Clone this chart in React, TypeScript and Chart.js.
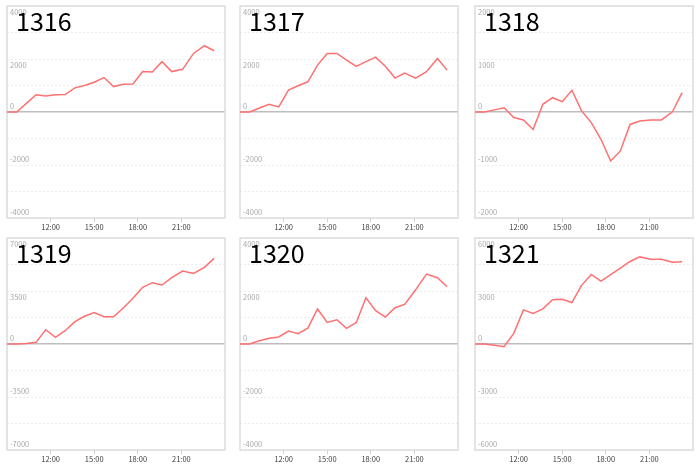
import React, { useEffect, useRef } from 'react';
import { Chart, registerables } from 'chart.js';

Chart.register(...registerables);
Chart.defaults.font.family = '"Noto Sans CJK SC", "Noto Sans", sans-serif';

// sample times, shared by all six panels
const times = ['09:00', '09:40', '10:20', '11:00', '11:40', '12:20', '13:00', '13:40', '14:20', '15:00', '15:40',
  '16:20', '17:00', '17:40', '18:20', '19:00', '19:40', '20:20', '21:05', '21:50', '22:35', '23:15'];
const tickLabels = ['12:00', '15:00', '18:00', '21:00'];
const axisStart = '09:00';
const axisEnd = '24:00';

const names = ['1316', '1317', '1318', '1319', '1320', '1321'];
const yLimits = [4000, 4000, 2000, 7000, 4000, 6000];

const v1316 = [0, 0, 325, 650, 600, 650, 660, 910, 1000, 1125, 1300, 960, 1050, 1060, 1525, 1510, 1900, 1525, 1610, 2210, 2500, 2310];
const v1317 = [0, 0, 150, 290, 190, 830, 990, 1140, 1770, 2210, 2210, 1960, 1720, 1900, 2070, 1730, 1280, 1470, 1280, 1520, 2020, 1580];
const v1318 = [0, 0, 40, 80, -105, -150, -330, 145, 270, 195, 410, 20, -200, -515, -925, -735, -235, -170, -150, -150, 5, 365];
const v1319 = [0, 0, 40, 110, 945, 440, 880, 1475, 1830, 2070, 1800, 1800, 2380, 3015, 3740, 4050, 3895, 4380, 4820, 4665, 5060, 5655];
const v1320 = [0, 0, 125, 215, 265, 490, 390, 600, 1320, 815, 915, 590, 815, 1745, 1255, 1015, 1370, 1495, 2045, 2640, 2500, 2160];
const v1321 = [0, 0, -75, -150, 600, 1930, 1725, 1990, 2510, 2530, 2345, 3320, 3940, 3560, 3920, 4290, 4670, 4930, 4800, 4800, 4630, 4650];

const seriesList = [v1316, v1317, v1318, v1319, v1320, v1321];

// layout of the six frames
const colLeft = [7, 240, 475];
const rowTop = [6, 238];
const frameW = 218;
const frameH = 212;
const axisH = 14;

const toHours = (t: string) => {
  const [h, m] = t.split(':').map(Number);
  return h + m / 60;
};

const hourLabel = (v: number) => {
  const found = tickLabels.find((l) => Math.abs(toHours(l) - v) < 1e-6);
  return found ?? '';
};

// light grey border round the plot area
const framePlugin = {
  id: 'frame',
  beforeDatasetsDraw(chart: any) {
    const { ctx, chartArea: a } = chart;
    ctx.save();
    ctx.strokeStyle = '#dcdcdc';
    ctx.lineWidth = 1.5;
    ctx.strokeRect(a.left, a.top, a.right - a.left, a.bottom - a.top);
    ctx.restore();
  },
};

type PanelProps = { name: string; values: number[]; limit: number; left: number; top: number };

const Panel: React.FC<PanelProps> = ({ name, values, limit, left, top }) => {
  const canvasRef = useRef<HTMLCanvasElement | null>(null);

  useEffect(() => {
    if (!canvasRef.current) return;
    const chart = new Chart(canvasRef.current, {
      type: 'line',
      data: {
        datasets: [
          {
            data: times.map((t, i) => ({ x: toHours(t), y: values[i] })),
            borderColor: '#ff7070',
            borderWidth: 1.5,
            pointRadius: 0,
            tension: 0,
            fill: false,
          },
        ],
      },
      options: {
        animation: false,
        responsive: false,
        events: [],
        layout: { padding: { left: 1, right: 1, top: 1, bottom: 0 } },
        plugins: { legend: { display: false }, tooltip: { enabled: false } },
        scales: {
          x: {
            type: 'linear',
            min: toHours(axisStart),
            max: toHours(axisEnd),
            afterBuildTicks: (s: any) => {
              s.ticks = tickLabels.map((l) => ({ value: toHours(l) }));
            },
            afterFit: (s: any) => {
              s.height = axisH;
              s.paddingLeft = 0;
              s.paddingRight = 0;
            },
            grid: { drawOnChartArea: false, drawTicks: true, tickLength: 4, tickColor: '#cccccc', lineWidth: 1 },
            border: { display: false },
            ticks: {
              padding: 1,
              color: '#3c3c3c',
              autoSkip: false,
              maxRotation: 0,
              font: { size: 7.5 },
              callback: (v: any) => hourLabel(Number(v)),
            },
          },
          y: {
            type: 'linear',
            min: -limit,
            max: limit,
            afterFit: (s: any) => {
              s.width = 0;
              s.paddingTop = 0;
              s.paddingBottom = 0;
            },
            grid: {
              drawTicks: false,
              color: (c: any) => (c.tick && c.tick.value === 0 ? '#bdbdbd' : '#ececec'),
              lineWidth: (c: any) => (c.tick && c.tick.value === 0 ? 1.5 : 1),
            },
            border: {
              display: false,
              dash: (c: any) => (c.tick && c.tick.value === 0 ? [] : [2, 2]),
            },
            ticks: {
              stepSize: limit / 4,
              mirror: true,
              padding: 3,
              autoSkip: false,
              color: '#a9a9a9',
              font: { size: 7.5, lineHeight: 1.6 },
              callback: (v: any) => {
                const n = Number(v);
                if (n % (limit / 2) !== 0) return '';
                return n > 0 ? ['', String(n)] : [String(n), ''];
              },
            },
          },
        },
      },
      plugins: [framePlugin],
    } as any);
    return () => chart.destroy();
  }, [values, limit]);

  const w = frameW + 2;
  const h = frameH + 1 + axisH;
  return (
    <div style={{ position: 'absolute', left: left - 1, top: top - 1, width: w, height: h }}>
      <canvas ref={canvasRef} width={w} height={h} style={{ display: 'block', width: w, height: h }} />
      <div
        style={{
          position: 'absolute',
          left: 10,
          top: 3,
          fontFamily: '"Noto Sans CJK SC", "Noto Sans", sans-serif',
          fontSize: 25,
          lineHeight: '25px',
          color: '#000',
        }}
      >
        {name}
      </div>
    </div>
  );
};

const App: React.FC = () => (
  <div style={{ position: 'absolute', left: 0, top: 0, width: 700, height: 466, background: '#fff' }}>
    {names.map((n, i) => (
      <Panel
        key={n}
        name={n}
        values={seriesList[i]}
        limit={yLimits[i]}
        left={colLeft[i % 3]}
        top={rowTop[Math.floor(i / 3)]}
      />
    ))}
  </div>
);

export default App;
